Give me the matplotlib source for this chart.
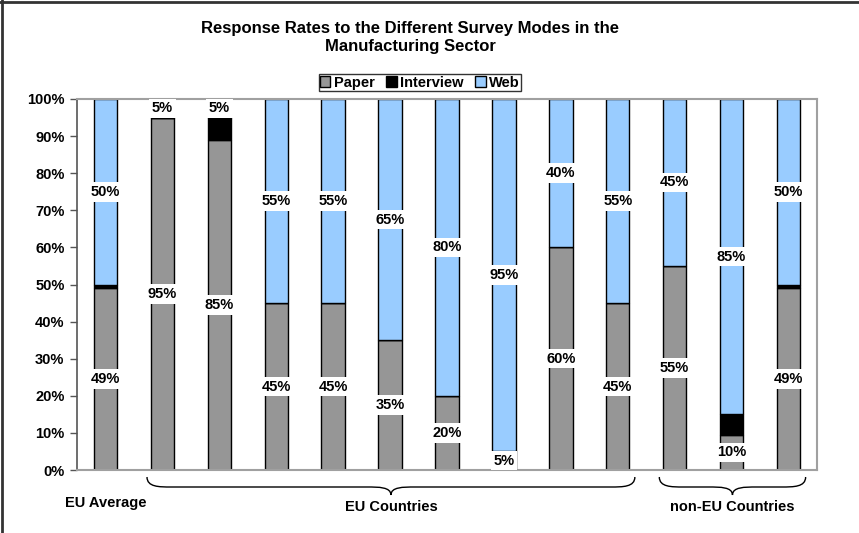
import matplotlib
matplotlib.use("Agg")
import matplotlib.pyplot as plt
import numpy as np
from matplotlib.path import Path
from matplotlib.patches import PathPatch
from matplotlib.lines import Line2D
from matplotlib.ticker import PercentFormatter

plt.rcParams["font.family"] = ["Liberation Sans", "DejaVu Sans"]
plt.rcParams["font.weight"] = "bold"

# data (percent), one entry per bar
paper = [49, 95, 89, 45, 45, 35, 20, 5, 60, 45, 55, 9.5, 49]
interview = [1, 0, 6, 0, 0, 0, 0, 0, 0, 0, 0, 5.5, 1]
web = [50, 5, 5, 55, 55, 65, 80, 95, 40, 55, 45, 85, 50]
paper_lbl = ["49%", "95%", "85%", "45%", "45%", "35%", "20%", "5%", "60%", "45%", "55%", "10%", "49%"]
web_lbl = ["50%", "5%", "5%", "55%", "55%", "65%", "80%", "95%", "40%", "55%", "45%", "85%", "50%"]
groups = [("EU Average", 0, 0, False), ("EU Countries", 1, 9, True), ("non-EU Countries", 10, 12, True)]

c_paper = "#969696"
c_int = "#000000"
c_web = "#99ccff"

W, H = 859, 533
fig = plt.figure(figsize=(W / 100, H / 100), dpi=100)
ax = fig.add_axes([77 / W, 1 - 470 / H, (817 - 77) / W, (470 - 99) / H])

x = np.arange(len(paper))
p = np.array(paper)
i = np.array(interview)
w = np.array(web)
bw = 0.41
ax.bar(x, p, bw, color=c_paper, edgecolor="black", linewidth=1, label="Paper", zorder=2)
ax.bar(x, i, bw, bottom=p, color=c_int, edgecolor="black", linewidth=1, label="Interview", zorder=2)
ax.bar(x, w, bw, bottom=p + i, color=c_web, edgecolor="black", linewidth=1, label="Web", zorder=2)

fs = 10.5
box = dict(facecolor="white", edgecolor="none", pad=2)
for k in x:
    ax.text(k, p[k] / 2, paper_lbl[k], ha="center", va="center", fontsize=fs,
            fontweight="bold", bbox=box, zorder=3)
    ax.text(k, p[k] + i[k] + w[k] / 2, web_lbl[k], ha="center", va="center", fontsize=fs,
            fontweight="bold", bbox=box, zorder=3)

ax.set_xlim(-0.5, len(paper) - 0.5)
ax.set_ylim(0, 100)
ax.set_yticks(np.arange(0, 101, 10))
ax.yaxis.set_major_formatter(PercentFormatter(decimals=0))
ax.set_xticks([])
ax.tick_params(axis="y", labelsize=fs, length=5, width=1, color="#555555", pad=4)
for lab in ax.get_yticklabels():
    lab.set_fontweight("bold")
for s in ["top", "right", "bottom"]:
    ax.spines[s].set_color("#a0a0a0")
    ax.spines[s].set_linewidth(1.5)
ax.spines["left"].set_color("#555555")
ax.spines["left"].set_linewidth(1.2)

leg = fig.legend(*ax.get_legend_handles_labels(), loc="lower center",
                 bbox_to_anchor=(420 / W, 1 - 91 / H), ncol=3, frameon=True,
                 fontsize=fs, handlelength=0.7, handleheight=0.7, handletextpad=0.25,
                 columnspacing=0.8, borderpad=0.1, fancybox=False, borderaxespad=0)
leg.get_frame().set_edgecolor("black")
leg.get_frame().set_linewidth(1)
for t in leg.get_texts():
    t.set_fontweight("bold")

fig.text(410 / W, 1 - 28 / H, "Response Rates to the Different Survey Modes in the",
         ha="center", va="center", fontsize=12, fontweight="bold")
fig.text(410 / W, 1 - 47 / H, "Manufacturing Sector",
         ha="center", va="center", fontsize=12, fontweight="bold")


def px(xd):
    # data x -> figure pixel x
    return ax.transData.transform((xd, 0))[0]


def brace(x0, x1, xm, ytop=477, ymid=487, ybot=495):
    r = 12
    verts = [(x0, ytop), (x0, ymid), (x0 + r, ymid), (x0 + 2 * r, ymid),
             (xm - 2 * r, ymid), (xm - r, ymid), (xm, ymid), (xm, ybot),
             (xm, ymid), (xm + r, ymid), (xm + 2 * r, ymid),
             (x1 - 2 * r, ymid), (x1 - r, ymid), (x1, ymid), (x1, ytop)]
    codes = [Path.MOVETO, Path.CURVE4, Path.CURVE4, Path.CURVE4,
             Path.LINETO, Path.CURVE4, Path.CURVE4, Path.CURVE4,
             Path.CURVE4, Path.CURVE4, Path.CURVE4,
             Path.LINETO, Path.CURVE4, Path.CURVE4, Path.CURVE4]
    v = [(a / W, 1 - b / H) for a, b in verts]
    fig.add_artist(PathPatch(Path(v, codes), fill=False, lw=1, ec="black",
                             transform=fig.transFigure))


for name, a, b, has_brace in groups:
    if has_brace:
        x0 = px(a - 0.27)
        x1 = px(b + 0.3)
        xm = (x0 + x1) / 2
        brace(x0, x1, xm)
        fig.text(xm / W, 1 - 507 / H, name, ha="center", va="center", fontsize=fs, fontweight="bold")
    else:
        fig.text(px(a) / W, 1 - 503 / H, name, ha="center", va="center", fontsize=fs, fontweight="bold")

# outer frame (top and left edges visible)
fig.add_artist(Line2D([0, 1], [1 - 2 / H, 1 - 2 / H], color="#333333", lw=2, transform=fig.transFigure))
fig.add_artist(Line2D([2 / W, 2 / W], [0, 1], color="#333333", lw=2, transform=fig.transFigure))

fig.savefig("out.png", dpi=100)
